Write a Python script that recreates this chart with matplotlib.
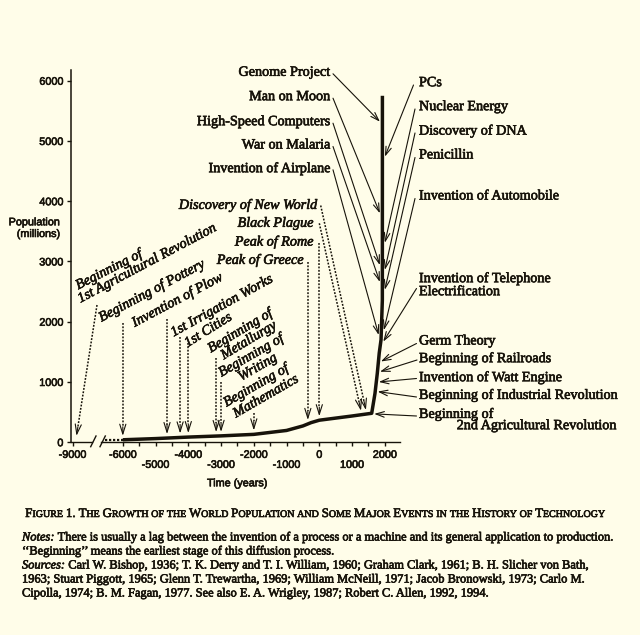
import numpy as np
import matplotlib
matplotlib.use("Agg")
import matplotlib.pyplot as plt
import matplotlib.transforms as mtransforms
import matplotlib.patheffects as pe
from matplotlib.lines import Line2D

W, H = 640, 635
BG = "#fffde9"
INK = "#17130a"
SERIF = "Liberation Serif"
SANS = "Liberation Sans"
BOLDEN = [pe.withStroke(linewidth=0.45, foreground=INK)]

# world population (millions) along the drawn curve
years = [-6000, -5000, -4000, -3000, -2000, -1000, -500, -250, 0, 500, 1000,
         1600, 1700, 1770, 1830, 1885, 1925, 1927]
population = [40, 60, 85, 105, 130, 195, 270, 325, 365, 400, 435,
              480, 810, 1140, 1480, 1700, 2360, 5750]
# dotted stretch just after the axis break
early_years = [-7060, -6000]
early_population = [40, 40]

# early events, dotted arrows down to the curve
old_events = ["Beginning of\n1st Agricultural Revolution", "Beginning of Pottery",
              "Invention of Plow", "1st Irrigation Works", "1st Cities",
              "Beginning of\nMetallurgy", "Beginning of\nWriting",
              "Beginning of\nMathematics", "Peak of Greece", "Peak of Rome",
              "Black Plague", "Discovery of New World"]
old_years = [-8800, -6000, -4650, -4250, -4000, -3150, -3000, -2000,
             -350, 0, 1300, 1450]

# recent events, arrows onto the steep part (population level hit by the arrow)
new_left_events = ["Genome Project", "Man on Moon", "High-Speed Computers",
                   "War on Malaria", "Invention of Airplane"]
new_left_pop = [5320, 3800, 2940, 2660, 1780]
new_right_events = ["PCs", "Nuclear Energy", "Discovery of DNA", "Penicillin",
                    "Invention of Automobile",
                    "Invention of Telephone\nElectrification", "Germ Theory",
                    "Beginning of Railroads", "Invention of Watt Engine",
                    "Beginning of Industrial Revolution",
                    "Beginning of\n2nd Agricultural Revolution"]
new_right_pop = [4740, 3310, 2860, 2530, 1860, 1670, 1340, 1170, 1000, 840, 470]

x_ticks = [-9000] + list(range(-6000, 2001, 500))
upper_row = [-9000, -6000, -4000, -2000, 0, 2000]
lower_row = [-5000, -3000, -1000, 1000]
y_ticks = [0, 1000, 2000, 3000, 4000, 5000, 6000]

caption = "Figure 1.  The Growth of the World Population and Some Major Events in the History of Technology"
notes = [("Notes:", "There is usually a lag between the invention of a process or a machine and its general application to production."),
         ("", "\u2018\u2018Beginning\u2019\u2019 means the earliest stage of this diffusion process."),
         ("Sources:", "Carl W. Bishop, 1936; T. K. Derry and T. I. William, 1960; Graham Clark, 1961; B. H. Slicher von Bath,"),
         ("", "1963; Stuart Piggott, 1965; Glenn T. Trewartha, 1969; William McNeill, 1971; Jacob Bronowski, 1973; Carlo M."),
         ("", "Cipolla, 1974; B. M. Fagan, 1977. See also E. A. Wrigley, 1987; Robert C. Allen, 1992, 1994.")]

# ---------------------------------------------------------------- layout
fig = plt.figure(figsize=(W / 100, H / 100), dpi=100, facecolor=BG)
IMG = mtransforms.Affine2D().scale(1.0 / W, -1.0 / H).translate(0, 1) + fig.transFigure

ax = fig.add_axes([71 / W, 1 - 442.2 / H, 329 / W, (442.2 - 70) / H])
ax.set_facecolor("none")

K = 0.512  # compression of the years before -6000 (axis break)


def fwd(x):
    x = np.asarray(x, float)
    return np.where(x < -6000, -6000 + (x + 6000) * K, x)


def inv(u):
    u = np.asarray(u, float)
    return np.where(u < -6000, -6000 + (u + 6000) / K, u)


ax.set_xscale("function", functions=(fwd, inv))
ax.set_xlim(-9090, 2464)
ax.set_ylim(0, 6178)

for s in ["top", "right", "bottom"]:
    ax.spines[s].set_visible(False)
ax.spines["left"].set_linewidth(1.1)
ax.spines["left"].set_color(INK)

xlabels = []
for v in x_ticks:
    if v in upper_row:
        xlabels.append(str(v))
    elif v in lower_row:
        xlabels.append("\n" + str(v))
    else:
        xlabels.append("")
ax.set_xticks(x_ticks, xlabels)
ax.set_yticks(y_ticks, [str(v) for v in y_ticks])
ax.tick_params(axis="both", direction="out", length=3, width=1, color=INK,
               labelsize=7.8, labelcolor=INK, pad=2.5)
for lab in ax.get_xticklabels() + ax.get_yticklabels():
    lab.set_family(SANS)
    lab.set_path_effects(BOLDEN)
for lab in ax.get_xticklabels():
    lab.set_linespacing(1.0)

# broken x axis
for xs, ys in [([71, 92], [442.2, 442.2]), ([101, 400], [442.2, 442.2]),
               ([90.7, 96], [446.7, 436]), ([100, 105.3], [446.7, 436])]:
    fig.add_artist(Line2D(xs, ys, transform=IMG, color=INK, lw=1.0))

# population curve
ax.plot(years, population, color=INK, lw=2.5, solid_joinstyle="round",
        solid_capstyle="butt", clip_on=False)
ax.plot(early_years, early_population, color=INK, lw=1.6, ls=(0, (1.0, 0.8)),
        clip_on=False)


def to_img(year, pop):
    return IMG.inverted().transform(ax.transData.transform((year, pop)))


def txt(x, y, s, **kw):
    kw.setdefault("family", SERIF)
    kw.setdefault("fontsize", 10.2)
    kw.setdefault("color", INK)
    kw.setdefault("path_effects", BOLDEN)
    return fig.text(x, y, s, transform=IMG, **kw)


HEAD = dict(lw=0.8, color=INK, shrinkA=0, shrinkB=0, mutation_scale=10)

# ---- early events
old_text_pos = [[(110.6, 273, 27), (148.5, 266.6, 28)],
                [(153.4, 294.2, 28)],
                [(179, 303.4, 28)],
                [(223.5, 309, 29)],
                [(210, 333.3, 32)],
                [(242, 334, 31), (250.5, 343.5, 31)],
                [(252.9, 358.7, 30), (259.4, 370.5, 30)],
                [(257.9, 388.7, 30), (267.5, 399.5, 30)]]
old_right_pos = [(303.3, 260), (313.3, 241.7), (313.3, 223.3), (316.7, 205)]
old_start = [(97, 305), (None, 323), (None, 319), (None, 337), (None, 343),
             (None, 358), (None, 382), (None, 413), (None, 262), (None, 243),
             (319.3, 223.3), (320.7, 205.5)]

for i, (name, yr) in enumerate(zip(old_events, old_years)):
    if i < len(old_text_pos):
        for line, (x, y, rot) in zip(name.split("\n"), old_text_pos[i]):
            txt(x, y, line, style="italic", rotation=rot, rotation_mode="anchor",
                ha="center", va="baseline")
    else:
        x, y = old_right_pos[i - len(old_text_pos)]
        txt(x, y, name, style="italic", ha="right", va="center")

    tx, ty = to_img(yr, np.interp(yr, years, population))
    sx, sy = old_start[i]
    if sx is None:
        sx = tx
    v = np.array([tx - sx, ty - sy])
    u = v / np.hypot(*v)
    tip = np.array([tx, ty]) - 4 * u
    neck = tip - 9 * u
    fig.add_artist(Line2D([sx, neck[0]], [sy, neck[1]], transform=IMG, color=INK,
                          lw=1.1, ls=(0, (1.2, 1.0))))
    ax.annotate("", xy=tip, xycoords=IMG, xytext=neck, textcoords=IMG,
                arrowprops=dict(arrowstyle="->,head_length=0.7,head_width=0.22", **HEAD))

# ---- recent events
steep_pop = population[11:]
steep_years = years[11:]

left_y = [72.3, 96.7, 121.7, 145, 168.3]
for name, pop, y in zip(new_left_events, new_left_pop, left_y):
    txt(330, y, name, ha="right", va="center")
    tx, ty = to_img(np.interp(pop, steep_pop, steep_years), pop)
    ax.annotate("", xy=(tx - 2.5, ty), xycoords=IMG, xytext=(333, y + 1.5),
                textcoords=IMG,
                arrowprops=dict(arrowstyle="->,head_length=0.6,head_width=0.2", **HEAD))

right_text_pos = [[(419, 82.7)], [(419, 106.7)], [(419, 130.7)], [(419, 155)],
                  [(419, 196)], [(419, 278.3), (419, 291.7)], [(419, 341)],
                  [(419, 358.3)], [(419, 377.3)], [(419, 395)],
                  [(419, 414), (456.7, 425.7)]]
right_start = [(413.5, 85), (415, 109), (415, 133), (415, 157.5), (415, 198.5),
               (416.5, 288.5), (416.5, 343.5), (417, 360), (416.5, 378.5),
               (416.5, 397), (416.5, 416)]
for name, pop, pos, st in zip(new_right_events, new_right_pop, right_text_pos, right_start):
    for line, (x, y) in zip(name.split("\n"), pos):
        txt(x, y, line, ha="left", va="center")
    tx, ty = to_img(np.interp(pop, steep_pop, steep_years), pop)
    ax.annotate("", xy=(tx + 2.5, ty), xycoords=IMG, xytext=st, textcoords=IMG,
                arrowprops=dict(arrowstyle="->,head_length=0.6,head_width=0.2", **HEAD))

# axis titles
txt(34.7, 222.3, "Population", family=SANS, fontsize=7.8, ha="center", va="center")
txt(38.7, 234, "(millions)", family=SANS, fontsize=7.8, ha="center", va="center")
txt(237.5, 483.3, "Time (years)", family=SANS, fontsize=7.8, ha="center", va="center")

# ---------------------------------------------------------------- caption
renderer = fig.canvas.get_renderer()


def width_of(a):
    return a.get_window_extent(renderer).width


def place_runs(x, y, runs, gap, ha="left"):
    """runs: list of words, each a list of (text, size, style)."""
    arts = []
    total = 0
    for k, word in enumerate(runs):
        if k:
            total += gap
        for t, sz, st in word:
            a = txt(0, y, t, fontsize=sz, style=st, ha="left", va="baseline")
            arts.append((a, total))
            total += width_of(a)
    x0 = x - total / 2 if ha == "center" else x
    for a, off in arts:
        a.set_position((x0 + off, y))


BIG, SMALL = 9.3, 7.2
cap_words = []
for w in caption.split(" "):
    if not w:
        continue
    runs = []
    for ch in w:
        sz = SMALL if ch.islower() else BIG
        if runs and runs[-1][1] == sz:
            runs[-1][0] += ch.upper()
        else:
            runs.append([ch.upper(), sz])
    cap_words.append([(t, sz, "normal") for t, sz in runs])
place_runs(315, 517, cap_words, gap=BIG * 0.32, ha="center")

NOTE = 8.95
for j, (head, body) in enumerate(notes):
    y = 540.5 + 14 * j
    x = 22
    if head:
        a = txt(x, y, head, fontsize=NOTE, style="italic", ha="left", va="baseline")
        x += width_of(a) + NOTE * 0.35
    txt(x, y, body, fontsize=NOTE, ha="left", va="baseline")

fig.savefig("out.png", dpi=100, facecolor=BG)
